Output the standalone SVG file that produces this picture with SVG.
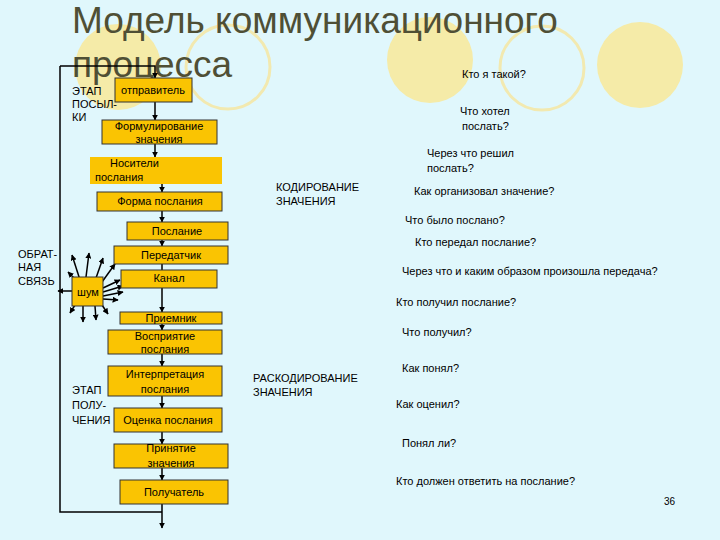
<svg xmlns="http://www.w3.org/2000/svg" width="720" height="540" viewBox="0 0 720 540">
<defs>
<marker id="ah" viewBox="0 0 10 10" refX="9" refY="5" markerWidth="4" markerHeight="4" orient="auto"><path d="M0,0 L10,5 L0,10 z" fill="#000"/></marker>
<style>
text{font-family:"Liberation Sans",Arial,sans-serif;font-size:11px;fill:#000}
.t{font-size:37px;fill:#4f4f35}
.box{fill:#FAC402;stroke:#333;stroke-width:1}
.ln{stroke:#000;stroke-width:1.5;fill:none}
.ar{stroke:#000;stroke-width:1.5;fill:none;marker-end:url(#ah)}
.c{text-anchor:middle}
</style>
</defs>
<rect width="720" height="540" fill="#E0F7FC"/>
<g id="decor">
<circle cx="118" cy="67" r="43" fill="#F5EBA8"/>
<circle cx="228" cy="67" r="42" fill="none" stroke="#F2E9B0" stroke-width="3"/>
<circle cx="430" cy="60" r="43" fill="#F5EBA8"/>
<circle cx="542" cy="68" r="42" fill="none" stroke="#F2E9B0" stroke-width="3"/>
<circle cx="640" cy="65" r="43" fill="#F5EBA8"/>
</g>
<text class="t" x="72" y="33">Модель коммуникационного</text>
<text class="t" x="72" y="77">процесса</text>
<g id="connectors">
<path class="ln" d="M60,66 V512 H162"/>
<path class="ar" d="M60,66 H155 V78"/>
<path class="ar" d="M155,102 V120"/>
<path class="ar" d="M155,144 V157"/>
<path class="ar" d="M162,184 V192"/>
<path class="ar" d="M162,211 V222"/>
<path class="ar" d="M162,240 V246"/>
<path class="ln" d="M162,264 V270"/>
<path class="ar" d="M162,288 V312"/>
<path class="ar" d="M162,324 V330"/>
<path class="ar" d="M162,354 V366"/>
<path class="ar" d="M162,396 V408"/>
<path class="ar" d="M162,432 V444"/>
<path class="ar" d="M162,468 V480"/>
<path class="ar" d="M162,504 V528"/>
<g id="noise">
<path class="ar" d="M80,280 L72,255"/>
<path class="ar" d="M86,277 L89,253"/>
<path class="ar" d="M96,278 L103,258"/>
<path class="ar" d="M102,282 L115,264"/>
<path class="ar" d="M103,288 L120,280"/>
<path class="ar" d="M103,292 L123,286"/>
<path class="ar" d="M103,296 L123,292"/>
<path class="ar" d="M103,299 L118,300"/>
<path class="ar" d="M73,291 L58,291"/>
<path class="ar" d="M76,280 L68,272"/>
<path class="ar" d="M75,305 L70,313"/>
<path class="ar" d="M83,306 L83,322"/>
<path class="ar" d="M95,306 L96,320"/>
<path class="ar" d="M102,305 L108,314"/>
</g>
</g>
<g id="n1"><rect class="box" x="115" y="78" width="77" height="24"/><text class="c" x="153" y="94">отправитель</text></g>
<g id="n2"><rect class="box" x="102" y="120" width="115" height="24"/><text class="c" x="159" y="130">Формулирование</text><text class="c" x="159" y="143">значения</text></g>
<g id="n3"><rect x="90" y="157" width="132" height="27" fill="#FAC402"/><text x="110" y="167">Носители</text><text x="95" y="181">послания</text></g>
<g id="n4"><rect class="box" x="97" y="192" width="125" height="19"/><text class="c" x="160" y="205">Форма послания</text></g>
<g id="n5"><rect class="box" x="127" y="222" width="101" height="18"/><text class="c" x="177" y="235">Послание</text></g>
<g id="n6"><rect class="box" x="114" y="246" width="114" height="18"/><text class="c" x="171" y="259">Передатчик</text></g>
<g id="n7"><rect class="box" x="121" y="270" width="96" height="18"/><text class="c" x="169" y="282">Канал</text></g>
<g id="noiseNode"><rect class="box" x="72" y="277" width="31" height="29"/><text class="c" x="88" y="296">шум</text></g>
<g id="n8"><rect class="box" x="120" y="312" width="102" height="12"/><text class="c" x="171" y="322">Приемник</text></g>
<g id="n9"><rect class="box" x="108" y="330" width="114" height="24"/><text class="c" x="165" y="340">Восприятие</text><text class="c" x="165" y="353">послания</text></g>
<g id="n10"><rect class="box" x="108" y="366" width="114" height="30"/><text class="c" x="165" y="378">Интерпретация</text><text class="c" x="165" y="393">послания</text></g>
<g id="n11"><rect class="box" x="114" y="408" width="108" height="24"/><text class="c" x="168" y="424">Оценка послания</text></g>
<g id="n12"><rect class="box" x="114" y="444" width="114" height="24"/><text class="c" x="171" y="452">Принятие</text><text class="c" x="171" y="467">значения</text></g>
<g id="n13"><rect class="box" x="120" y="480" width="108" height="24"/><text class="c" x="174" y="496">Получатель</text></g>
<g id="labels">
<text x="72" y="95">ЭТАП</text><text x="72" y="108">ПОСЫЛ-</text><text x="72" y="121">КИ</text>
<text x="18" y="258">ОБРАТ-</text><text x="18" y="271">НАЯ</text><text x="18" y="285">СВЯЗЬ</text>
<text x="72" y="394">ЭТАП</text><text x="72" y="409">ПОЛУ-</text><text x="72" y="424">ЧЕНИЯ</text>
<text x="276" y="191">КОДИРОВАНИЕ</text><text x="276" y="205">ЗНАЧЕНИЯ</text>
<text x="253" y="382">РАСКОДИРОВАНИЕ</text><text x="253" y="396">ЗНАЧЕНИЯ</text>
<text x="462" y="78">Кто я такой?</text>
<text x="460" y="115">Что хотел</text><text x="462" y="130">послать?</text>
<text x="427" y="157">Через что решил</text><text x="427" y="172">послать?</text>
<text x="414" y="195">Как организовал значение?</text>
<text x="405" y="224">Что было послано?</text>
<text x="415" y="246">Кто передал послание?</text>
<text x="402" y="275">Через что и каким образом произошла передача?</text>
<text x="396" y="306">Кто получил послание?</text>
<text x="402" y="336">Что получил?</text>
<text x="402" y="372">Как понял?</text>
<text x="396" y="408">Как оценил?</text>
<text x="402" y="447">Понял ли?</text>
<text x="396" y="485">Кто должен ответить на послание?</text>
<text x="664" y="505" style="font-size:10px">36</text>
</g>
</svg>
